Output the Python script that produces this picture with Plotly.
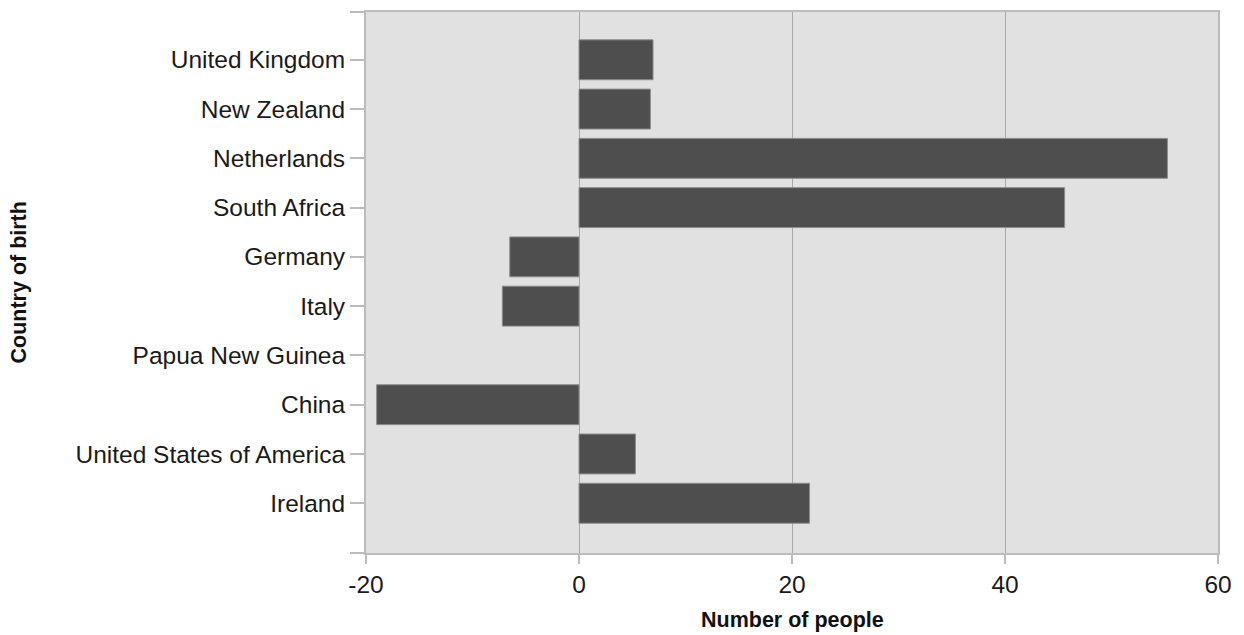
import plotly.graph_objects as go

countries = ["United Kingdom", "New Zealand", "Netherlands", "South Africa", "Germany",
             "Italy", "Papua New Guinea", "China", "United States of America", "Ireland"]
values = [6.95, 6.7, 55.25, 45.6, -6.5, -7.2, 0.0, -19.0, 5.3, 21.65]
x_ticks = [-20, 0, 20, 40, 60]

n = len(countries)
positions = [n - 1 - i for i in range(n)]  # first country at top
outline_widths = [0 if v == 0 else 1 for v in values]

# page body has an 8px margin; figure is sized to fill the rest of the window
W, H = 1236, 627
L, T = 358, 2
plot_w = 1210 - L
plot_h = 545 - T

y_lo, y_hi = -1.01, n - 1 + 0.97

fig = go.Figure()
fig.add_trace(go.Bar(
    x=values, y=positions, orientation="h", width=0.81,
    marker=dict(color="#4e4e4e", line=dict(color="#8c8c8c", width=outline_widths)),
    hoverinfo="skip",
))

tickvals = [y_lo] + positions + [y_hi]
ticktext = [""] + countries + [""]

fig.update_layout(
    width=W, height=H,
    margin=dict(l=L, r=W - 1210, t=T, b=H - 545),
    paper_bgcolor="white", plot_bgcolor="#e1e1e1",
    font=dict(family="Liberation Sans, Arial, sans-serif", size=24.5, color="#1a1a1a"),
    showlegend=False,
    xaxis=dict(
        range=[-20, 60], tickvals=x_ticks, ticktext=[str(v) for v in x_ticks],
        showgrid=True, gridcolor="#a8a8a8", gridwidth=1, zeroline=False,
        showline=True, linecolor="#bcbcbc", linewidth=2, mirror=True,
        ticks="outside", ticklen=9, tickcolor="#bcbcbc", tickwidth=2,
        fixedrange=True,
    ),
    yaxis=dict(
        range=[y_lo, y_hi], tickvals=tickvals, ticktext=ticktext,
        showgrid=False, zeroline=False,
        showline=True, linecolor="#bcbcbc", linewidth=2, mirror=True,
        ticks="outside", ticklen=14, tickcolor="#bcbcbc", tickwidth=2,
        fixedrange=True,
    ),
    annotations=[
        dict(text="<b>Number of people</b>", xref="paper", yref="paper",
             x=0.5, y=-(612 - 545) / plot_h, xanchor="center", yanchor="middle",
             showarrow=False, font=dict(size=21.5, color="#111111")),
        dict(text="<b>Country of birth</b>", xref="paper", yref="paper",
             x=(10 - L) / plot_w, y=0.5, xanchor="center", yanchor="middle",
             textangle=-90, showarrow=False, font=dict(size=21.5, color="#111111")),
    ],
)

fig.write_html("out.html")
